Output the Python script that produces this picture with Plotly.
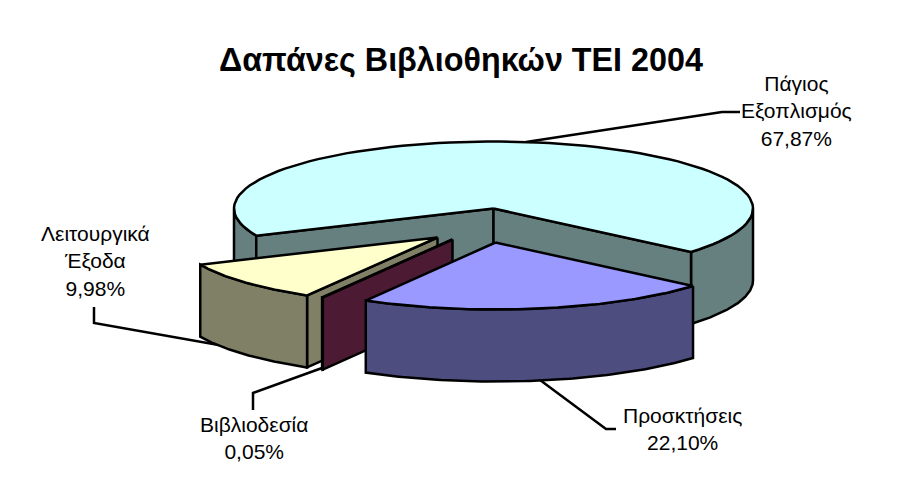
import numpy as np
import plotly.graph_objects as go

# ---- data (clockwise from the first slice) ----
categories = ["Πάγιος<br>Εξοπλισμός", "Προσκτήσεις", "Βιβλιοδεσία", "Λειτουργικά<br>Έξοδα"]
values = [67.87, 22.10, 0.05, 9.98]
title_text = "Δαπάνες Βιβλιοθηκών ΤΕΙ 2004"

# ---- style / projection ----
top_colors = ["#CCFFFF", "#9999FF", "#660033", "#FFFFCC"]
wall_colors = ["#668080", "#4D4D80", "#4D1A33", "#808066"]
offsets = [(0, 0), (2, 34), (-41, 31), (-56, 29)]
label_pos = [(796, 111), (682, 429), (254, 438), (95, 261)]
CX, CY, RX, RY, DEPTH = 493.5, 208.5, 259.5, 67.0, 72.0
START = 203.9
LW = 2.5
PAGE = 8  # default page margin of the written html


def pt(a, off):
    r = np.radians(a)
    return CX + off[0] + RX * np.cos(r), CY + off[1] - RY * np.sin(r)


def arc(a0, a1, off, dz=0.0):
    ang = np.linspace(a0, a1, 90)
    r = np.radians(ang)
    return CX + off[0] + RX * np.cos(r), CY + off[1] + dz - RY * np.sin(r)


fig = go.Figure()


def poly(xs, ys, color):
    fig.add_trace(go.Scatter(
        x=list(xs) + [xs[0]], y=list(ys) + [ys[0]], mode="lines", fill="toself",
        fillcolor=color, line=dict(color="black", width=LW), hoverinfo="skip", showlegend=False))


def outer_wall(a0, a1, off, color):
    x1, y1 = arc(a0, a1, off)
    x2, y2 = arc(a1, a0, off, DEPTH)
    poly(np.r_[x1, x2], np.r_[y1, y2], color)


def radial_wall(a, off, color):
    ax, ay = CX + off[0], CY + off[1]
    ex, ey = pt(a, off)
    poly([ax, ex, ex, ax], [ay, ey, ey + DEPTH, ay + DEPTH], color)


def top(a0, a1, off, color):
    x, y = arc(a0, a1, off)
    poly(np.r_[CX + off[0], x], np.r_[CY + off[1], y], color)


# slice angles derived from the values
spans = [v / sum(values) * 360 for v in values]
bounds = [START]
for s in spans:
    bounds.append(bounds[-1] - s)

# main slice: outer walls, inner faces, top
a0, a1 = bounds[0], bounds[1]
outer_wall(a0, 180, offsets[0], wall_colors[0])
outer_wall(0, a1, offsets[0], wall_colors[0])
radial_wall(a0, offsets[0], wall_colors[0])
radial_wall(a1, offsets[0], wall_colors[0])
top(a0, a1, offsets[0], top_colors[0])

# left slice (last value)
a0, a1 = bounds[3], bounds[4]
radial_wall(a0, offsets[3], wall_colors[3])
outer_wall(a0, a1, offsets[3], wall_colors[3])
top(a0, a1, offsets[3], top_colors[3])

# thin slice
a0, a1 = bounds[2], bounds[3]
radial_wall(a0, offsets[2], wall_colors[2])
outer_wall(a0, a1, offsets[2], wall_colors[2])
top(a0, a1, offsets[2], top_colors[2])

# front slice
a0, a1 = bounds[1], bounds[2]
outer_wall(a0, a1, offsets[1], wall_colors[1])
top(a0, a1, offsets[1], top_colors[1])

# leader lines
leaders = [
    "M526,142 L722,112 L740,112",
    "M540,380 L606,429 L616,429",
    "M322,368 L253,393 L253,410",
    "M230,347 L94,323 L94,307",
]
shapes = [dict(type="path", path=p, xref="x", yref="y", line=dict(color="black", width=LW), layer="below")
          for p in leaders]

annotations = [dict(x=461, y=60, text=f"<b>{title_text}</b>", showarrow=False, xref="x", yref="y",
                    font=dict(family="Liberation Sans", size=32.3, color="black"))]
for name, v, (lx, ly) in zip(categories, values, label_pos):
    annotations.append(dict(
        x=lx, y=ly, xref="x", yref="y", showarrow=False, align="center",
        text=f"{name}<br>{v:.2f}%".replace(".", ","),
        font=dict(family="Liberation Sans", size=21, color="black")))

fig.update_layout(
    width=908, height=502, autosize=False,
    margin=dict(l=0, r=0, t=0, b=0),
    paper_bgcolor="white", plot_bgcolor="white",
    xaxis=dict(range=[PAGE, 908 + PAGE], visible=False, fixedrange=True),
    yaxis=dict(range=[502 + PAGE, PAGE], visible=False, fixedrange=True),
    shapes=shapes, annotations=annotations, showlegend=False,
)
fig.write_html("out.html", config={"displayModeBar": False})
